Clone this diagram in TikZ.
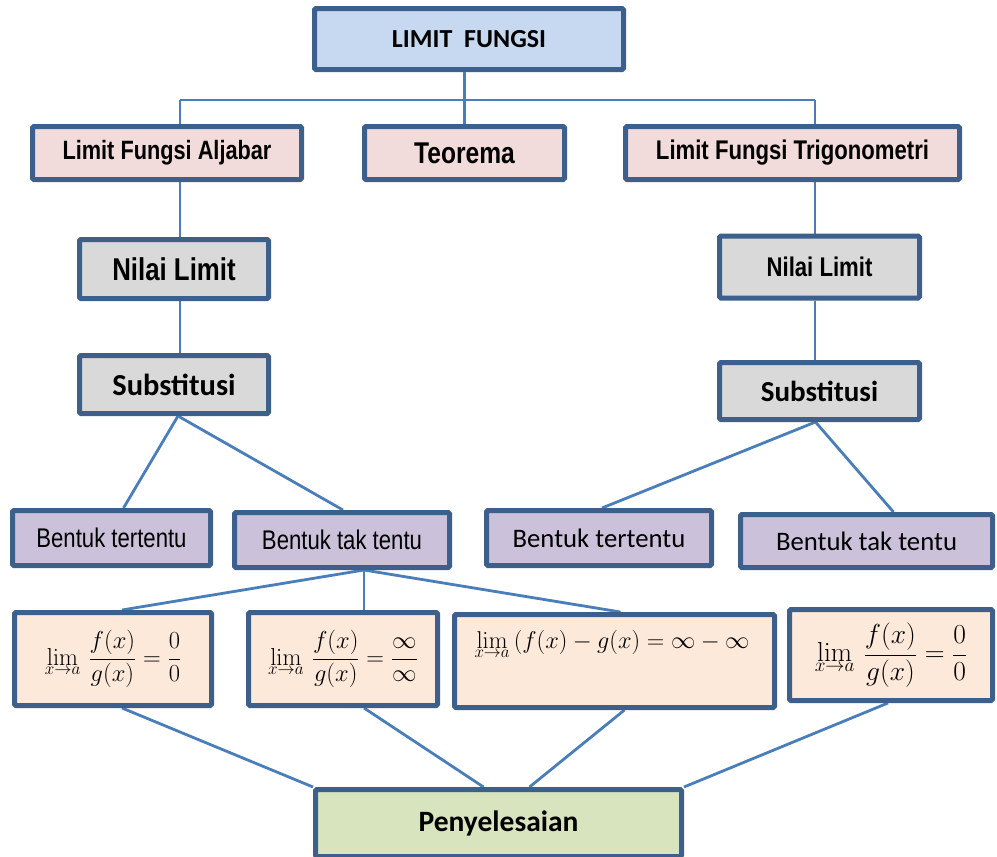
\RequirePackage{fix-cm}
\documentclass[tikz,border=0pt]{standalone}
\usepackage[no-math]{fontspec}
\setmainfont{Carlito}
\newfontfamily\narrow[FakeStretch=0.82]{Liberation Sans}
\usetikzlibrary{backgrounds,calc}
\definecolor{bordc}{HTML}{3C5F8C}
\definecolor{linec}{HTML}{4A7EBB}
\definecolor{fblue}{HTML}{C6D9F1}
\definecolor{fpink}{HTML}{F2DCDB}
\definecolor{fgray}{HTML}{D9D9D9}
\definecolor{fpurp}{HTML}{CCC1DA}
\definecolor{fpeach}{HTML}{FDE9D9}
\definecolor{fgreen}{HTML}{D7E4BD}
\newcommand{\limxa}{\mathop{\mathrm{lim}}\limits_{x\to a}}
\begin{document}
\begin{tikzpicture}[x=1pt,y=-1pt,
 box/.style={draw=bordc,line width=5pt,rounded corners=1.5pt,inner sep=0pt,align=center,text=black},
 conn/.style={draw=linec,line width=2.8pt},
 nb/.style={font=\narrow\bfseries\fontsize{#1}{#1}\selectfont},
 nr/.style={font=\narrow\fontsize{#1}{#1}\selectfont},
 cb/.style={font=\bfseries\fontsize{#1}{#1}\selectfont},
 cr/.style={font=\fontsize{#1}{#1}\selectfont},
 mth/.style={fill=fpeach,font=\fontsize{#1}{#1}\selectfont},
]
\useasboundingbox (0,0) rectangle (997,857);
% level 0
\node[box,fill=fblue,minimum width=309pt,minimum height=61pt,cb=26] (top) at (469,39) {LIMIT\ \ FUNGSI};
% level 1
\node[box,fill=fpink,minimum width=269pt,minimum height=53pt,nb=26.5] (alj) at (167,153) {Limit Fungsi Aljabar};
\node[box,fill=fpink,minimum width=200pt,minimum height=53pt,nb=30] (teo) at (464.5,153) {Teorema};
\node[box,fill=fpink,minimum width=334pt,minimum height=53pt,nb=27] (trig) at (792.5,153) {Limit Fungsi Trigonometri};
% level 2
\node[box,fill=fgray,minimum width=189pt,minimum height=59pt,nb=31.5] (nl1) at (174,269) {Nilai Limit};
\node[box,fill=fgray,minimum width=189pt,minimum height=58pt,cb=30.5] (sub1) at (174,384.5) {Substitusi};
\node[box,fill=fgray,minimum width=200pt,minimum height=62pt,nb=27] (nl2) at (819.5,267) {Nilai Limit};
\node[box,fill=fgray,minimum width=200pt,minimum height=57pt,cb=29] (sub2) at (819.5,391) {Substitusi};
% level 3
\node[box,fill=fpurp,minimum width=198pt,minimum height=55pt,nr=27] (bt1) at (111.5,538) {Bentuk tertentu};
\node[box,fill=fpurp,minimum width=215pt,minimum height=55pt,nr=27] (btt1) at (342,540) {Bentuk tak tentu};
\node[box,fill=fpurp,minimum width=225pt,minimum height=55pt,cr=26.7] (bt2) at (599,538) {Bentuk tertentu};
\node[box,fill=fpurp,minimum width=252pt,minimum height=53pt,cr=26.7] (btt2) at (866.5,541) {Bentuk tak tentu};
% level 4
\node[box,mth=24.5,minimum width=197pt,minimum height=93pt] (f1) at (113,659)
 {$\displaystyle\limxa\,\frac{f(x)}{g(x)}=\frac{0}{0}$};
\node[box,mth=24.5,minimum width=189pt,minimum height=93pt] (f2) at (343,659)
 {$\displaystyle\limxa\,\frac{f(x)}{g(x)}=\frac{\infty}{\infty}$};
\node[box,mth=24.3,minimum width=320pt,minimum height=93pt] (f3) at (614.5,661)
 {\parbox[c][88pt][t]{312pt}{\vspace{13pt}\hspace{16pt}$\displaystyle\limxa\,(f(x)-g(x)=\infty-\infty$}};
\node[box,mth=27.5,minimum width=203pt,minimum height=91pt] (f4) at (891,655)
 {$\displaystyle\limxa\,\frac{f(x)}{g(x)}=\frac{0}{0}$};
% level 5
\node[box,fill=fgreen,minimum width=366pt,minimum height=67pt,cb=29.5] (pen) at (498.5,823) {Penyelesaian};
% connectors
\begin{pgfonlayer}{background}
\coordinate (hl) at (180,100);
\coordinate (hr) at (815,100);
\draw[conn] (hl) -- (hr);
\draw[conn] (teo.north |- top.south) -- (teo.north);
\draw[conn] (hl) -- (hl |- alj.north);
\draw[conn] (hr) -- (hr |- trig.north);
\draw[conn] (hl |- alj.south) -- (hl |- nl1.north);
\draw[conn] (hl |- nl1.south) -- (hl |- sub1.north);
\draw[conn] (hr |- trig.south) -- (hr |- nl2.north);
\draw[conn] (hr |- nl2.south) -- (hr |- sub2.north);
\draw[conn] ($(sub1.south)+(4,0)$) -- ($(bt1.north)+(12,0)$);
\draw[conn] ($(sub1.south)+(4,0)$) -- ($(btt1.north)+(1,0)$);
\draw[conn] ($(sub2.south)+(-4,0)$) -- ($(bt2.north)+(3,0)$);
\draw[conn] ($(sub2.south)+(-4,0)$) -- ($(btt2.north)+(27,0)$);
\draw[conn] ($(btt1.south)+(22,0)$) -- ($(f1.north)+(9,0)$);
\draw[conn] ($(btt1.south)+(22,0)$) -- ($(f2.north)+(21,0)$);
\draw[conn] ($(btt1.south)+(22,0)$) -- ($(f3.north)+(6,0)$);
\draw[conn] ($(btt2.south)+(27,0)$) -- ($(btt2.south)+(27,0)$ |- f4.north);
\draw[conn] ($(f1.south)+(9,0)$) -- (pen.north west);
\draw[conn] ($(f2.south)+(21,0)$) -- ($(pen.north)+(-15,0)$);
\draw[conn] ($(f3.south)+(10,0)$) -- ($(pen.north)+(31,0)$);
\draw[conn] ($(f4.south)+(-3,0)$) -- (pen.north east);
\end{pgfonlayer}
\end{tikzpicture}
\end{document}
